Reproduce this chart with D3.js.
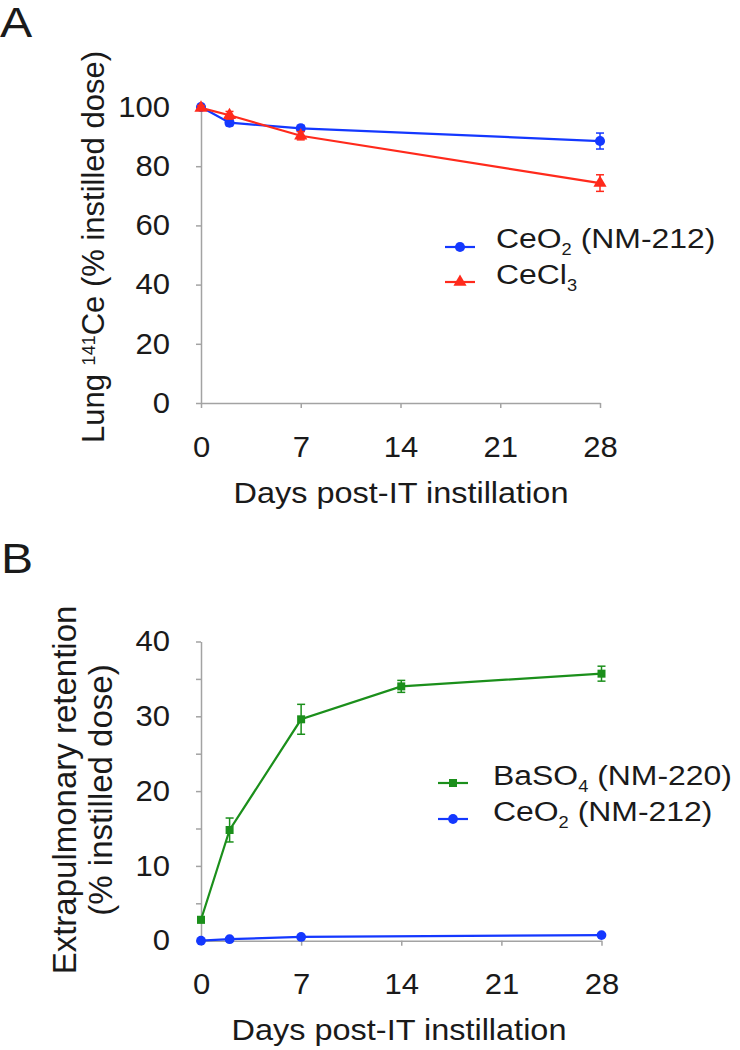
<!DOCTYPE html>
<html>
<head>
<meta charset="utf-8">
<script src="https://cdn.jsdelivr.net/npm/d3@7"></script>
<style>
  body { margin: 0; background: #fff; }
  text { font-family: "Liberation Sans", Arial, sans-serif; fill: #1a1a1a; }
</style>
</head>
<body>
<svg id="chart" width="740" height="1050"></svg>
<script>
// Panel A: lung retention of 141Ce
const daysA = [0, 2, 7, 28]
const ceo2A = [100, 94.7, 92.8, 88.5]
const ceo2AErr = [0.6, 1.0, 1.0, 2.7]
const cecl3A = [99.7, 97.2, 90.3, 74.3]
const cecl3AErr = [0.8, 1.3, 1.4, 2.8]

// Panel B: extrapulmonary retention
const daysBaso4 = [0, 2, 7, 14, 28]
const baso4B = [2.8, 14.8, 29.6, 34.0, 35.7]
const baso4BErr = [0.4, 1.6, 2.0, 0.8, 1.0]
const daysCeo2B = [0, 2, 7, 28]
const ceo2B = [0.0, 0.2, 0.5, 0.75]
const ceo2BErr = [0.1, 0.1, 0.1, 0.1]

const xTicks = [0, 7, 14, 21, 28]
const yTicksA = [0, 20, 40, 60, 80, 100]
const yTicksB = [0, 5, 10, 15, 20, 25, 30, 35, 40]
const yLabelsB = [0, 10, 20, 30, 40]

const BLUE = "#1438ff",
  RED = "#ff2a1c",
  GREEN = "#1b8f1b",
  AXIS = "#a3a3a3"

const svg = d3.select("#chart")

// text stretched horizontally like the scanned figure
const textAt = (parent, x, y, sx, rot) =>
  parent
    .append("g")
    .attr("transform", `translate(${x},${y}) scale(${sx},1)` + (rot ? " rotate(-90)" : ""))
    .append("text")

const drawAxes = (g, x, y, yTicks, yLabels) => {
  const xAxis = g
    .append("g")
    .attr("transform", `translate(0,${y.range()[0]})`)
    .call(d3.axisBottom(x).tickValues(xTicks).tickSize(5).tickSizeOuter(0).tickPadding(28))
  const yAxis = g
    .append("g")
    .attr("transform", `translate(${x.range()[0]},0)`)
    .call(
      d3
        .axisLeft(y)
        .tickValues(yTicks)
        .tickSize(5)
        .tickSizeOuter(0)
        .tickPadding(25)
        .tickFormat((d) => (yLabels.includes(d) ? d : ""))
    )
  ;[xAxis, yAxis].forEach((a) => {
    a.select(".domain").attr("stroke", AXIS).attr("stroke-width", 1.5)
    a.selectAll(".tick line").attr("stroke", AXIS).attr("stroke-width", 1.5)
    a.selectAll(".tick text")
      .attr("font-size", 29)
      .attr("font-family", null)
      .attr("fill", "#1a1a1a")
  })
  xAxis.selectAll(".tick text").attr("transform", "scale(1.07,1)")
  yAxis.selectAll(".tick text").attr("transform", "scale(1.07,1)").attr("x", -29)
}

const drawSeries = (g, x, y, days, vals, errs, color, shape, size) => {
  const pts = days.map((d, i) => ({ d, v: vals[i], e: errs[i] }))
  g.append("path")
    .datum(pts)
    .attr("fill", "none")
    .attr("stroke", color)
    .attr("stroke-width", 2.2)
    .attr(
      "d",
      d3
        .line()
        .x((p) => x(p.d))
        .y((p) => y(p.v))
    )
  const err = g.append("g").attr("stroke", color).attr("stroke-width", 1.5)
  pts.forEach((p) => {
    const x0 = x(p.d),
      yt = y(p.v + p.e),
      yb = y(p.v - p.e)
    err.append("line").attr("x1", x0).attr("x2", x0).attr("y1", yt).attr("y2", yb)
    err.append("line").attr("x1", x0 - 4).attr("x2", x0 + 4).attr("y1", yt).attr("y2", yt)
    err.append("line").attr("x1", x0 - 4).attr("x2", x0 + 4).attr("y1", yb).attr("y2", yb)
  })
  g.append("g")
    .selectAll("path")
    .data(pts)
    .join("path")
    .attr("transform", (p) => `translate(${x(p.d)},${y(p.v)})`)
    .attr("d", d3.symbol().type(shape).size(size))
    .attr("fill", color)
}

const legendRow = (g, lx, ly, color, shape, size, parts, textX, baseY) => {
  g.append("line")
    .attr("x1", lx - 15)
    .attr("x2", lx + 15)
    .attr("y1", ly)
    .attr("y2", ly)
    .attr("stroke", color)
    .attr("stroke-width", 2.2)
  g.append("path")
    .attr("transform", `translate(${lx},${ly})`)
    .attr("d", d3.symbol().type(shape).size(size))
    .attr("fill", color)
  const t = textAt(g, textX, baseY, 1.14).attr("font-size", 28)
  parts.forEach(([s, sub]) => {
    if (sub) {
      t.append("tspan").attr("font-size", 16).attr("dy", 7).text(s)
    } else {
      t.append("tspan").attr("dy", t.selectAll("tspan").size() ? -7 : 0).text(s)
    }
  })
}

// ---------- Panel A ----------
const gA = svg.append("g")
const xA = d3.scaleLinear().domain([0, 28]).range([201, 600])
const yA = d3.scaleLinear().domain([0, 100]).range([403, 107])

drawAxes(gA, xA, yA, yTicksA, yTicksA)
drawSeries(gA, xA, yA, daysA, ceo2A, ceo2AErr, BLUE, d3.symbolCircle, 80)
drawSeries(gA, xA, yA, daysA, cecl3A, cecl3AErr, RED, d3.symbolTriangle, 75)

textAt(gA, 0, 37, 1.15).attr("font-size", 42).text("A")
textAt(gA, 401, 503, 1.12).attr("font-size", 29).attr("text-anchor", "middle").text("Days post-IT instillation")

const yTitleA = textAt(gA, 104, 247, 1, true).attr("font-size", 31).attr("text-anchor", "middle")
yTitleA.append("tspan").text("Lung ")
yTitleA.append("tspan").attr("font-size", 18).attr("dy", -9).text("141")
yTitleA.append("tspan").attr("dy", 9).text("Ce (% instilled dose)")

legendRow(gA, 460, 247, BLUE, d3.symbolCircle, 80, [["CeO"], ["2", true], [" (NM-212)"]], 496, 255)
legendRow(gA, 460, 282, RED, d3.symbolTriangle, 75, [["CeCl"], ["3", true]], 496, 291)

// ---------- Panel B ----------
const gB = svg.append("g")
const xB = d3.scaleLinear().domain([0, 28]).range([201, 601.5])
const yB = d3.scaleLinear().domain([0, 40]).range([940.7, 641.5])

drawAxes(gB, xB, yB, yTicksB, yLabelsB)
drawSeries(gB, xB, yB, daysBaso4, baso4B, baso4BErr, GREEN, d3.symbolSquare, 64)
drawSeries(gB, xB, yB, daysCeo2B, ceo2B, ceo2BErr, BLUE, d3.symbolCircle, 75)

textAt(gB, 1, 573, 1.12).attr("font-size", 43).text("B")
textAt(gB, 399, 1040, 1.12).attr("font-size", 29).attr("text-anchor", "middle").text("Days post-IT instillation")

textAt(gB, 76, 790, 1, true).attr("font-size", 33).attr("text-anchor", "middle").text("Extrapulmonary retention")
textAt(gB, 112, 790, 1, true).attr("font-size", 33).attr("text-anchor", "middle").text("(% instilled dose)")

legendRow(gB, 453, 783, GREEN, d3.symbolSquare, 64, [["BaSO"], ["4", true], [" (NM-220)"]], 493, 792)
legendRow(gB, 453, 819, BLUE, d3.symbolCircle, 75, [["CeO"], ["2", true], [" (NM-212)"]], 493, 828)
</script>
</body>
</html>
